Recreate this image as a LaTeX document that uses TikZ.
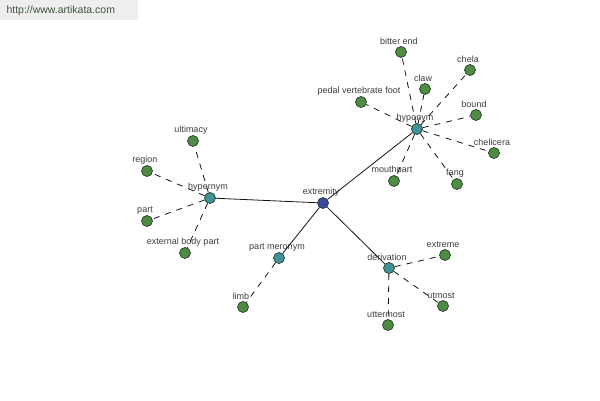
\documentclass[tikz,border=0pt]{standalone}
\usepackage{fontspec}
\setmainfont{Liberation Sans}
\definecolor{wordleaf}{RGB}{78,140,68}
\definecolor{wordhub}{RGB}{64,146,150}
\definecolor{wordroot}{RGB}{58,72,160}
\definecolor{wordrim}{RGB}{40,60,40}
\definecolor{wordlink}{RGB}{20,20,20}
\definecolor{wordtag}{RGB}{60,60,60}
\definecolor{markbg}{RGB}{238,238,238}
\definecolor{marktext}{RGB}{62,84,62}

\begin{document}
\begin{tikzpicture}[x=1pt,y=-1pt,
    dot/.style={circle,draw=wordrim,line width=0.7pt,minimum size=11pt,inner sep=0pt,
      label={[font=\fontsize{9}{10}\selectfont,text=wordtag,inner sep=0.5pt,xshift=-2pt,label distance=0.5pt]above:#1}},
    leafdot/.style={dot=#1,fill=wordleaf},
    hubdot/.style={dot=#1,fill=wordhub},
    rootdot/.style={dot=#1,fill=wordroot},
    solidlink/.style={wordlink,line width=0.8pt},
    dashlink/.style={wordlink,line width=0.8pt,dash pattern=on 6pt off 6pt}]
  \useasboundingbox (0,0) rectangle (600,400);
  \fill[markbg] (0,0) rectangle (138,20);
  \node[anchor=west,text=marktext,font=\fontsize{10.5}{11}\selectfont] (mark) at (3,11) {http://www.artikata.com};
  % centre and the relation hubs
  \node[rootdot=extremity] (extremity) at (323,203) {};
  \node[hubdot=hypernym] (hypernym) at (210,198) {};
  \node[hubdot=hyponym] (hyponym) at (417,129) {};
  \node[hubdot=part meronym] (meronym) at (279,258) {};
  \node[hubdot=derivation] (derivation) at (389,268) {};
  \foreach \hub in {hypernym,hyponym,meronym,derivation}
    \draw[solidlink] (extremity) -- (\hub);
  % words hanging off each hub
  \foreach \nm/\px/\py/\word/\hub in {
      ultimacy/193/141/ultimacy/hypernym,
      region/147/171/region/hypernym,
      part/147/221/part/hypernym,
      extbody/185/253/external body part/hypernym,
      bitterend/401/52/bitter end/hyponym,
      chela/470/70/chela/hyponym,
      claw/425/89/claw/hyponym,
      pedalfoot/361/102/pedal vertebrate foot/hyponym,
      bound/476/115/bound/hyponym,
      chelicera/494/153/chelicera/hyponym,
      mouthpart/394/181/mouthpart/hyponym,
      fang/457/184/fang/hyponym,
      limb/243/307/limb/meronym,
      extreme/445/255/extreme/derivation,
      utmost/443/306/utmost/derivation,
      uttermost/388/325/uttermost/derivation} {
    \node[leafdot=\word] (\nm) at (\px,\py) {};
    \draw[dashlink] (\hub) -- (\nm);
  }
\end{tikzpicture}
\end{document}
